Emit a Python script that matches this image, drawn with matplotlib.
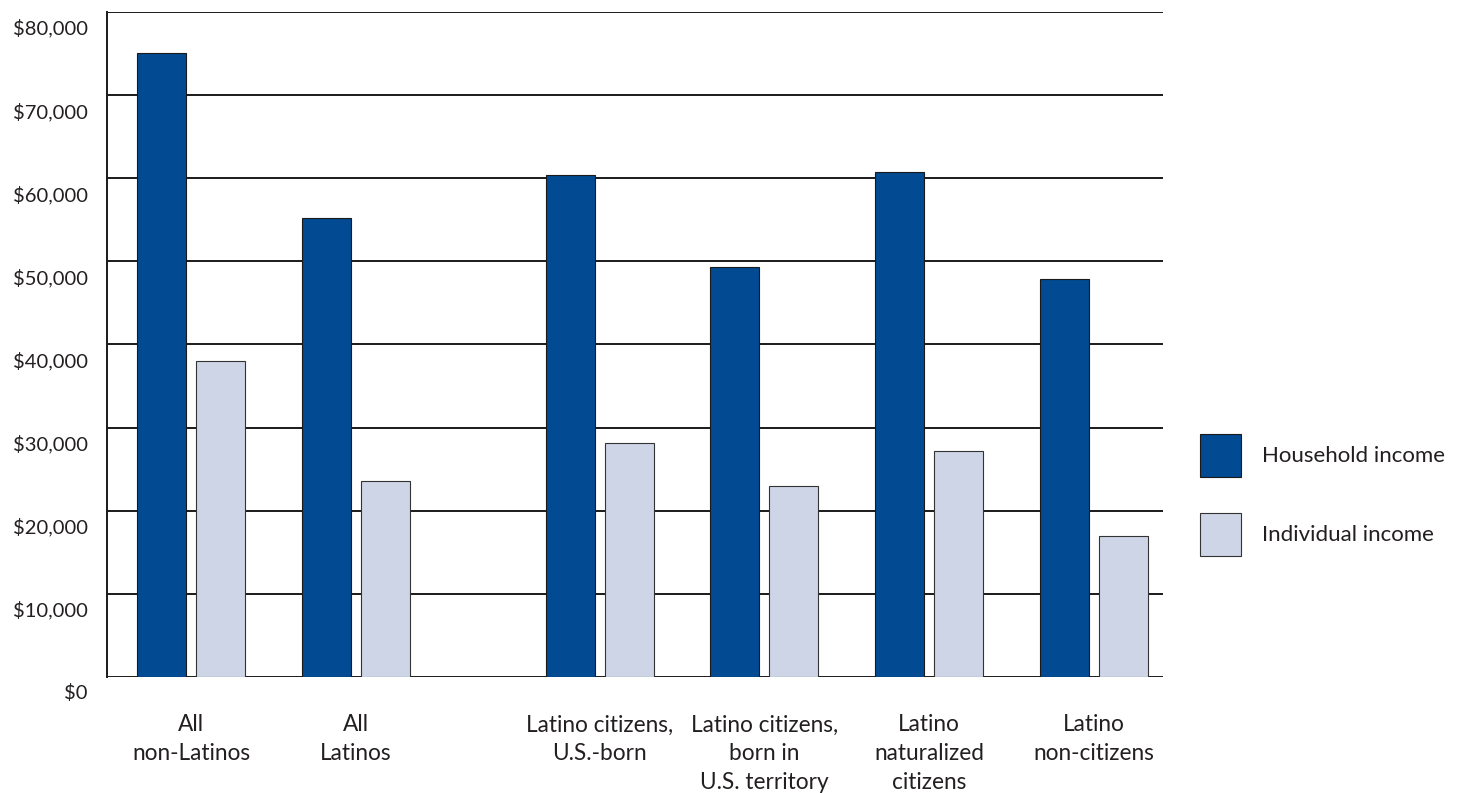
import matplotlib.pyplot as plt
import matplotlib.transforms as mtransforms
from matplotlib.patches import Patch

plt.rcParams['font.family'] = ['Lato', 'DejaVu Sans']

# Dataset
groups = ['All\nnon-Latinos', 'All\nLatinos', 'Latino citizens,\nU.S.-born',
          'Latino citizens,\nborn in\nU.S. territory', 'Latino\nnaturalized\ncitizens',
          'Latino\nnon-citizens']
group_pos = [0, 1, 2.48, 3.48, 4.48, 5.48]
household = [75100, 55200, 60400, 49300, 60700, 47900]
individual = [38000, 23600, 28100, 23000, 27200, 17000]
yticks = [0, 10000, 20000, 30000, 40000, 50000, 60000, 70000, 80000]
ytick_labels = ['$0', '$10,000', '$20,000', '$30,000', '$40,000', '$50,000',
                '$60,000', '$70,000', '$80,000']

dark_blue = '#024a92'
light_blue = '#ced5e7'

fig = plt.figure(figsize=(14.65, 7.93), dpi=100, facecolor='white')
ax = fig.add_axes([0.0730, 0.1463, 0.7209, 0.8386])

w = 0.297
off = 0.179
hh = [p - off for p in group_pos]
ii = [p + off for p in group_pos]
ax.bar(hh, household, width=w, color=dark_blue, edgecolor='#1a1a1a', linewidth=0.8, zorder=3)
ax.bar(ii, individual, width=w, color=light_blue, edgecolor='#333333', linewidth=0.8, zorder=3)

for y in yticks:
    ax.axhline(y, color='#1a1a1a', linewidth=1.4, zorder=1)

ax.set_xlim(-0.51, 5.90)
ax.set_ylim(0, 80000)

for s in ['top', 'right', 'bottom']:
    ax.spines[s].set_visible(False)
ax.spines['left'].set_linewidth(1.4)
ax.spines['left'].set_color('#1a1a1a')

ax.set_yticks(yticks)
ax.set_yticklabels(ytick_labels, fontsize=14.5, color='#231f20')
ax.tick_params(axis='y', length=0, pad=14)
shift = mtransforms.ScaledTranslation(0, -15 / 100, fig.dpi_scale_trans)
for lab in ax.get_yticklabels():
    lab.set_transform(lab.get_transform() + shift)

ax.set_xticks(group_pos)
ax.set_xticklabels(groups, fontsize=16.3, color='#231f20', linespacing=1.45, va='top')
ax.tick_params(axis='x', length=0, pad=27)

handles = [Patch(facecolor=dark_blue, edgecolor='#1a1a1a', linewidth=0.8, label='Household income'),
           Patch(facecolor=light_blue, edgecolor='#333333', linewidth=0.8, label='Individual income')]
fig.legend(handles=handles, loc='upper left', bbox_to_anchor=(1200 / 1465, 1 - 434 / 793),
           frameon=False, borderpad=0, borderaxespad=0,
           fontsize=16, handlelength=1.84, handleheight=2.6, handletextpad=0.94,
           labelspacing=1.6, labelcolor='#231f20')

fig.savefig('out.png', dpi=100, facecolor='white')
